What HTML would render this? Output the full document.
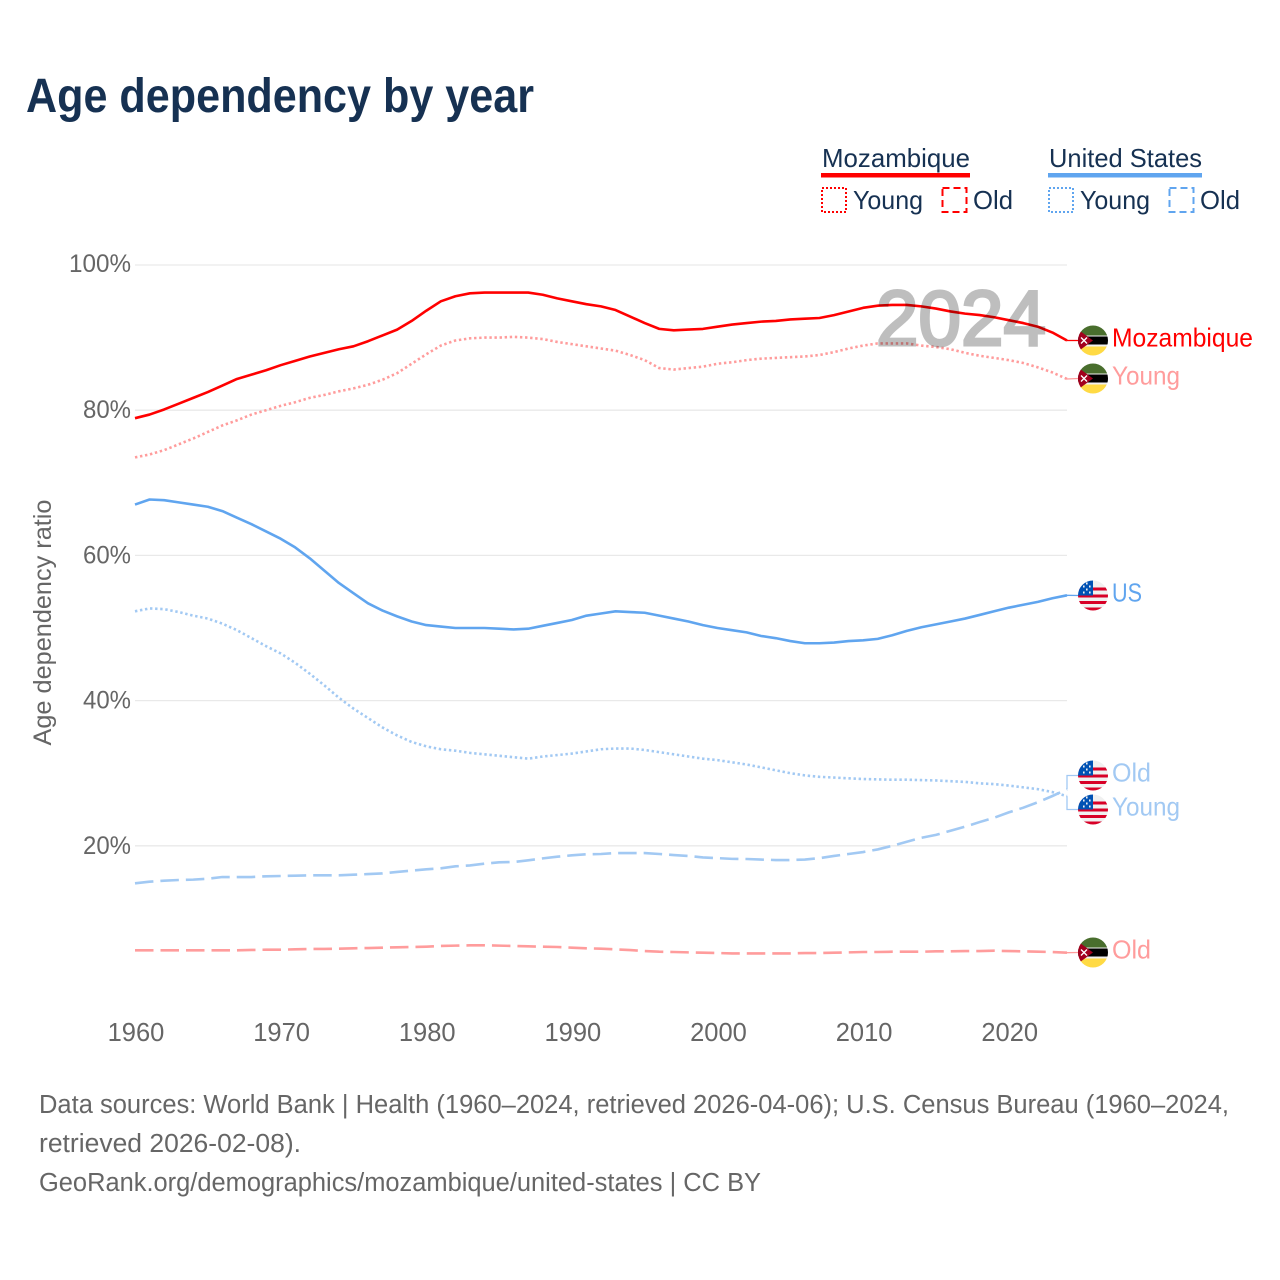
<!DOCTYPE html>
<html lang="en">
<head>
<meta charset="utf-8">
<title>Age dependency by year</title>
<style>
html,body{margin:0;padding:0;background:#fff;}
svg{display:block;}
text{font-family:"Liberation Sans",sans-serif;}
</style>
</head>
<body>
<svg id="chart" xmlns="http://www.w3.org/2000/svg" width="1280" height="1280" viewBox="0 0 1280 1280">
  <defs>
    <clipPath id="flag-clip"><circle cx="0" cy="0" r="15"/></clipPath>
    <g id="flag-mz" clip-path="url(#flag-clip)">
      <rect x="-15" y="-15" width="30" height="30" fill="#f0f0f0"/>
      <rect x="-15" y="-15" width="30" height="10" fill="#496e2d"/>
      <rect x="-15" y="-4" width="30" height="8" fill="#000"/>
      <rect x="-15" y="6" width="30" height="9" fill="#ffda44"/>
      <polygon points="-15,-11 0,0 -15,11" fill="#a2001d"/>
      <path d="M-12,-3 L-6,3 M-6,-3 L-12,3" stroke="#fff" stroke-width="1.4"/>
    </g>
    <g id="flag-us" clip-path="url(#flag-clip)">
      <rect x="-15" y="-15" width="30" height="30" fill="#f0f0f0"/>
      <rect x="-15" y="-8" width="30" height="3" fill="#d80027"/>
      <rect x="-15" y="-1" width="30" height="3" fill="#d80027"/>
      <rect x="-15" y="5.500" width="30" height="3" fill="#d80027"/>
      <rect x="-15" y="12" width="30" height="3" fill="#d80027"/>
      <rect x="-15" y="-15" width="15" height="15" fill="#0052b4"/>
      <path d="M-10,-3 h1.6 M-4,-3 h1.6 M-7,-6 h1.6 M-10,-9 h1.6 M-4,-9 h1.6 M-7,-12 h1.6" stroke="#f0f0f0" stroke-width="2"/>
    </g>
  </defs>

  <text x="26" y="112" font-size="48" font-weight="700" fill="#163152" textLength="508" lengthAdjust="spacingAndGlyphs">Age dependency by year</text>

  <g>
    <text x="822" y="167" font-size="26" fill="#163152" textLength="148" lengthAdjust="spacingAndGlyphs">Mozambique</text>
    <rect x="821" y="173" width="149" height="4.5" fill="#ff0000"/>
    <text x="1049" y="167" font-size="26" fill="#163152" textLength="153" lengthAdjust="spacingAndGlyphs">United States</text>
    <rect x="1048" y="173" width="154" height="4.5" fill="#60a5ef"/>
    <rect x="822" y="188" width="24" height="24" fill="none" stroke="#ff0000" stroke-width="2" stroke-dasharray="2 2"/>
    <text x="853" y="209" font-size="26" fill="#163152" textLength="70" lengthAdjust="spacingAndGlyphs">Young</text>
    <rect x="942.5" y="188" width="24" height="24" fill="none" stroke="#ff0000" stroke-width="2" stroke-dasharray="7 4"/>
    <text x="973" y="209" font-size="26" fill="#163152" textLength="40" lengthAdjust="spacingAndGlyphs">Old</text>
    <rect x="1049" y="188" width="24" height="24" fill="none" stroke="#60a5ef" stroke-width="2" stroke-dasharray="2 2"/>
    <text x="1080" y="209" font-size="26" fill="#163152" textLength="70" lengthAdjust="spacingAndGlyphs">Young</text>
    <rect x="1169.500" y="188" width="24" height="24" fill="none" stroke="#60a5ef" stroke-width="2" stroke-dasharray="7 4"/>
    <text x="1200" y="209" font-size="26" fill="#163152" textLength="40" lengthAdjust="spacingAndGlyphs">Old</text>
  </g>

  <g id="grid"></g>
  <g id="yticks"></g>
  <g id="xticks"></g>
  <text transform="translate(51,622.5) rotate(-90)" text-anchor="middle" font-size="25" fill="#666" textLength="246" lengthAdjust="spacingAndGlyphs">Age dependency ratio</text>

  <g id="series"></g>

  <text x="876" y="345" font-size="78" font-weight="400" fill="#000" stroke="#000" stroke-width="3" opacity="0.25" textLength="170" lengthAdjust="spacingAndGlyphs">2024</text>

  <g id="labels"></g>

  <g font-size="25.5" fill="#666">
    <text x="39" y="1113" textLength="1190" lengthAdjust="spacingAndGlyphs">Data sources: World Bank | Health (1960–2024, retrieved 2026-04-06); U.S. Census Bureau (1960–2024,</text>
    <text x="39" y="1152" textLength="262" lengthAdjust="spacingAndGlyphs">retrieved 2026-02-08).</text>
    <text x="39" y="1191" textLength="722" lengthAdjust="spacingAndGlyphs">GeoRank.org/demographics/mozambique/united-states | CC BY</text>
  </g>
</svg>
<script>
const startYear = 1960;
const yTickValues = [20, 40, 60, 80, 100];
const xTickYears = [1960, 1970, 1980, 1990, 2000, 2010, 2020];

const mozambiqueTotal = [78.9,79.4,80.1,80.9,81.7,82.5,83.4,84.3,84.9,85.5,86.2,86.8,87.4,87.9,88.4,88.8,89.5,90.3,91.1,92.3,93.7,95.0,95.7,96.1,96.2,96.2,96.2,96.2,95.9,95.4,95.0,94.6,94.3,93.8,92.9,92.0,91.2,91.0,91.1,91.2,91.5,91.8,92.0,92.2,92.3,92.5,92.6,92.7,93.1,93.6,94.1,94.4,94.5,94.5,94.3,94.0,93.6,93.3,93.1,92.8,92.4,92.0,91.5,90.7,89.6];
const mozambiqueYoung = [73.5,73.9,74.5,75.3,76.1,77.0,77.9,78.6,79.4,80.0,80.6,81.1,81.7,82.1,82.6,83.0,83.5,84.2,85.1,86.4,87.7,88.9,89.6,89.9,90.0,90.0,90.1,90.0,89.8,89.4,89.1,88.8,88.5,88.2,87.6,86.9,85.8,85.6,85.8,86.0,86.4,86.6,86.9,87.1,87.2,87.3,87.4,87.6,88.0,88.5,88.9,89.2,89.2,89.2,88.9,88.7,88.4,87.9,87.5,87.2,86.9,86.5,85.9,85.2,84.3];
const mozambiqueOld = [5.6,5.6,5.6,5.6,5.6,5.6,5.6,5.6,5.65,5.69,5.69,5.74,5.79,5.79,5.83,5.88,5.92,5.97,6.02,6.06,6.11,6.2,6.25,6.29,6.29,6.25,6.2,6.15,6.1,6.06,5.97,5.88,5.83,5.74,5.64,5.5,5.41,5.37,5.32,5.28,5.23,5.18,5.18,5.18,5.18,5.18,5.23,5.23,5.28,5.32,5.37,5.37,5.41,5.41,5.41,5.46,5.46,5.5,5.5,5.55,5.5,5.46,5.41,5.37,5.28];
const usTotal = [67.0,67.7,67.6,67.3,67.0,66.7,66.1,65.2,64.3,63.3,62.3,61.1,59.6,57.9,56.2,54.8,53.4,52.4,51.6,50.9,50.4,50.2,50.0,50.0,50.0,49.9,49.8,49.9,50.3,50.7,51.1,51.7,52.0,52.3,52.2,52.1,51.7,51.3,50.9,50.4,50.0,49.7,49.4,48.9,48.6,48.2,47.9,47.9,48.0,48.2,48.3,48.5,49.0,49.6,50.1,50.5,50.9,51.3,51.8,52.3,52.8,53.2,53.6,54.1,54.5];
const usYoung = [52.3,52.7,52.6,52.2,51.7,51.3,50.6,49.7,48.6,47.5,46.5,45.2,43.7,42.1,40.4,38.9,37.6,36.3,35.2,34.3,33.7,33.3,33.1,32.8,32.6,32.4,32.2,32.0,32.3,32.5,32.7,33.0,33.3,33.4,33.4,33.2,32.9,32.6,32.3,32.0,31.8,31.5,31.2,30.8,30.4,30.0,29.7,29.5,29.4,29.3,29.2,29.15,29.1,29.1,29.05,29.0,28.9,28.8,28.6,28.5,28.3,28.05,27.8,27.4,26.85];
const usOld = [14.83,15.06,15.2,15.29,15.34,15.47,15.7,15.7,15.7,15.8,15.84,15.89,15.93,15.93,15.93,16.02,16.1,16.2,16.4,16.58,16.76,16.9,17.17,17.3,17.54,17.72,17.77,18.0,18.27,18.5,18.69,18.83,18.87,19.0,19.0,19.0,18.87,18.73,18.6,18.4,18.3,18.2,18.18,18.1,18.04,18.04,18.1,18.3,18.6,18.87,19.14,19.5,20.0,20.56,21.1,21.5,22.08,22.63,23.27,23.87,24.6,25.25,26.0,26.86,27.77];

const NS = 'http://www.w3.org/2000/svg';
function xScale(year){ return 135 + (year - 1960) * (1067 - 135) / 64; }
function yScale(v){ return 265 + (100 - v) * 7.26; }
function make(tag, parent){
  const el = document.createElementNS(NS, tag);
  parent.appendChild(el);
  return el;
}

const gridG = document.getElementById('grid');
const yG = document.getElementById('yticks');
yTickValues.forEach(function(v){
  const line = make('line', gridG);
  
  
  line.setAttribute('x1', 135);
  line.setAttribute('x2', 1067);
  line.setAttribute('y1', yScale(v));
  line.setAttribute('y2', yScale(v));
  line.setAttribute('stroke', '#e9e9e9');
  line.setAttribute('stroke-width', '1.3');
  const t = make('text', yG);
  
  
  t.setAttribute('x', 131 - (String(v).length === 3 ? 62 : 48));
  t.setAttribute('y', yScale(v) + 8 - (v === 100 ? 1 : 0));
  t.setAttribute('font-size', '25');
  t.setAttribute('fill', '#666');
  t.setAttribute('textLength', String(v).length === 3 ? 62 : 48);
  t.setAttribute('lengthAdjust', 'spacingAndGlyphs');
  t.textContent = v + '%';
});

const xG = document.getElementById('xticks');
xTickYears.forEach(function(y){
  const t = make('text', xG);
  
  
  t.setAttribute('x', xScale(y) + 1);
  t.setAttribute('y', 1041);
  t.setAttribute('text-anchor', 'middle');
  t.setAttribute('font-size', '25.5');
  t.setAttribute('fill', '#666');
  t.textContent = y;
});

function drawLine(values, color, dash, name){
  const g = document.getElementById('series');
  const p = make('path', g);
  
  
  let d = '';
  values.forEach(function(v, i){
    d += (i ? 'L' : 'M') + xScale(startYear + i).toFixed(2) + ',' + yScale(v).toFixed(2);
  });
  p.setAttribute('d', d);
  p.setAttribute('fill', 'none');
  p.setAttribute('stroke', color);
  p.setAttribute('stroke-width', '2.6');
  p.setAttribute('stroke-linejoin', 'round');
  if (dash) p.setAttribute('stroke-dasharray', dash);
}
const RED = '#ff0000', PINK = '#ff9c9c', BLUE = '#60a5ef', LIGHT = '#a2c9f3';
const DOT = '2.4 2.7', DASH = '18.5 7';
drawLine(mozambiqueOld, PINK, DASH, 'line-mozambique-old');
drawLine(usOld, LIGHT, DASH, 'line-us-old');
drawLine(usYoung, LIGHT, DOT, 'line-us-young');
drawLine(usTotal, BLUE, null, 'line-us-total');
drawLine(mozambiqueYoung, PINK, DOT, 'line-mozambique-young');
drawLine(mozambiqueTotal, RED, null, 'line-mozambique-total');

const labelsG = document.getElementById('labels');
function endLabel(text, flag, cy, textLen, color, name, path){
  const c = make('path', labelsG);
  
  
  c.setAttribute('d', path);
  c.setAttribute('fill', 'none');
  c.setAttribute('stroke', color);
  c.setAttribute('stroke-width', '1.3');
  const u = make('use', labelsG);
  
  
  u.setAttribute('href', '#' + flag);
  u.setAttribute('x', 1093);
  u.setAttribute('y', cy);
  const t = make('text', labelsG);
  
  
  t.setAttribute('x', 1112);
  t.setAttribute('y', cy + 6);
  t.setAttribute('font-size', '26');
  t.setAttribute('fill', color);
  t.setAttribute('textLength', textLen);
  t.setAttribute('lengthAdjust', 'spacingAndGlyphs');
  t.textContent = text;
}
function last(a){ return yScale(a[a.length - 1]); }
function stub(a, cy){ return 'M1067,' + last(a).toFixed(1) + 'L1078,' + cy; }
endLabel('Mozambique', 'flag-mz', 340.5, 141, RED, 'end-mozambique-total', stub(mozambiqueTotal, 340.5));
endLabel('Young', 'flag-mz', 378.5, 68, PINK, 'end-mozambique-young', stub(mozambiqueYoung, 378.5));
endLabel('US', 'flag-us', 595.5, 30, BLUE, 'end-us-total', stub(usTotal, 595.5));
endLabel('Old', 'flag-us', 775.5, 39, LIGHT, 'end-us-old', 'M1078,775.5H1067V' + last(usOld).toFixed(1));
endLabel('Young', 'flag-us', 809.5, 68, LIGHT, 'end-us-young', 'M1078,809.5H1067V' + last(usYoung).toFixed(1));
endLabel('Old', 'flag-mz', 952.5, 39, PINK, 'end-mozambique-old', stub(mozambiqueOld, 952.5));
</script>
</body>
</html>
